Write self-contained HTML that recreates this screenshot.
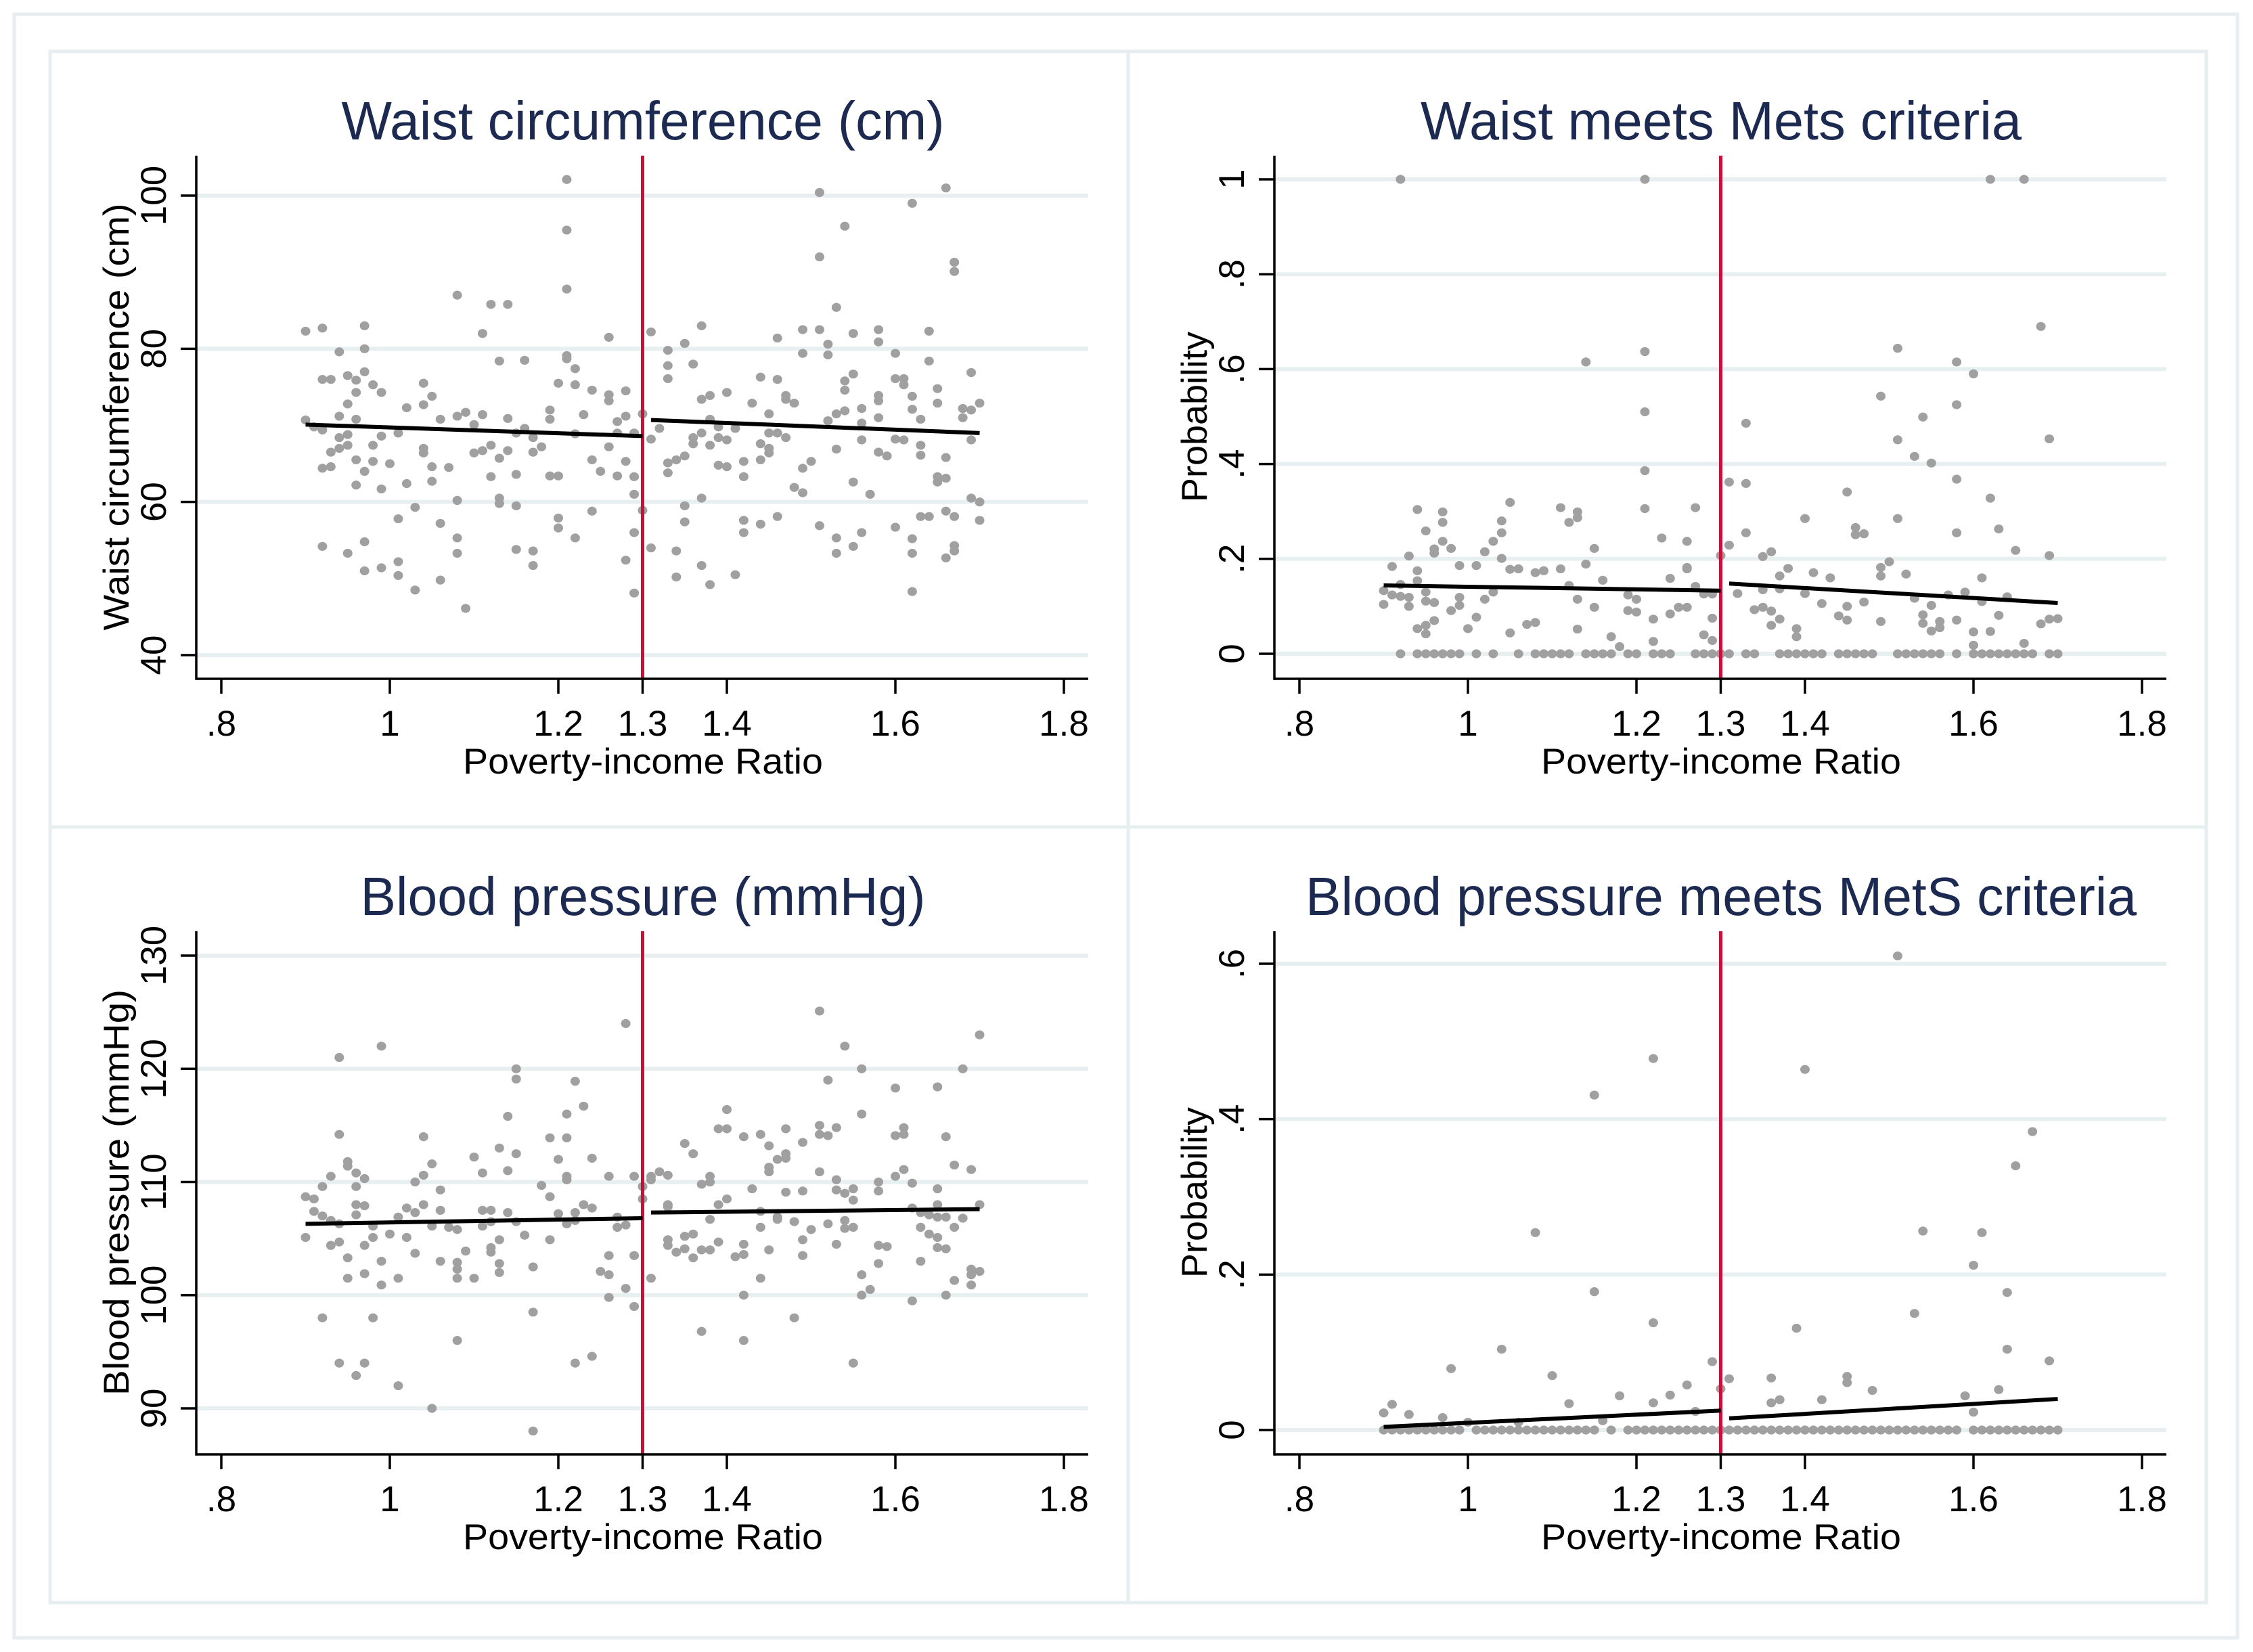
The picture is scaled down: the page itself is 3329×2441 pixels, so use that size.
<!DOCTYPE html>
<html><head><meta charset="utf-8">
<style>
html,body{margin:0;padding:0;background:#fff;}
svg{display:block;font-family:"Liberation Sans",Arial,sans-serif;}
</style></head>
<body>
<svg id="chart" xmlns="http://www.w3.org/2000/svg" width="3329" height="2441" viewBox="0 0 3329 2441">
<rect x="0" y="0" width="3329" height="2441" fill="#fff"/>
<rect x="21" y="21" width="3285" height="2399" fill="none" stroke="#e6eef0" stroke-width="5"/>
</svg>
<script>
// Shared x categories (poverty-income ratio levels)
const pirLevels = [0.90,0.91,0.92,0.93,0.94,0.95,0.96,0.97,0.98,0.99,1.00,1.01,1.02,1.03,1.04,1.05,1.06,1.07,1.08,1.09,1.10,1.11,1.12,1.13,1.14,1.15,1.16,1.17,1.18,1.19,1.20,1.21,1.22,1.23,1.24,1.25,1.26,1.27,1.28,1.29,1.30,1.31,1.32,1.33,1.34,1.35,1.36,1.37,1.38,1.39,1.40,1.41,1.42,1.43,1.44,1.45,1.46,1.47,1.48,1.49,1.50,1.51,1.52,1.53,1.54,1.55,1.56,1.57,1.58,1.59,1.60,1.61,1.62,1.63,1.64,1.65,1.66,1.67,1.68,1.69,1.70];
const xTickValues = [0.8,1,1.2,1.3,1.4,1.6,1.8];
const xTickLabels = [".8","1","1.2","1.3","1.4","1.6","1.8"];
const cutoff = 1.3;

// Panel 1: waist circumference
const waistY = [[82.3,70.7],[69.8],[82.7,76,54.2,64.4,69.4],[76,66.5,64.6],[79.6,68.4,71.2,67],[76.5,72.8,68.8,67.4,53.3],[75.9,74.3,65.5,62.2,70.8],[83,80,77,64,54.8,51],[75.3,67.4,65.3],[74.3,68.6,61.7,51.4],[65],[57.8,52.2,50.4,69],[72.3,62.4],[59.3,48.5],[75.5,72.7,67,66.4],[73.8,64.6,62.7],[70.8,57.2,49.8],[64.5],[87,71.2,60.2,55.3,53.3],[71.7,46.1],[70.1,66.4],[82,71.4,66.7],[85.8,67.4,63.3],[78.4,65.7,60.5,59.8],[85.8,70.9,66.7],[69,63.6,59.5,53.8],[78.5,69.6],[68.4,66.5,53.6,51.7],[67.2],[72,70.8,63.4],[75.5,63.4,57.9,56.6],[102.1,95.5,87.8,79.1,78.7],[77.4,75.3,68.9,55.3],[71.4],[74.6,65.5,58.8],[64],[81.5,74,73.2,67.2],[70.5,69,63.4],[74.5,71.2,65.3,52.4],[69,63.3,61,56,48.1],[71.5,58.9],[82.2,68.2,54],[69.6],[79.8,77.8,76.1,65.1,63.8],[65.5,53.6,50.2],[80.7,66,59.5,57.4],[78,68.4,67.6],[83,73.4,69,60.5,51.7],[73.9,70.8,67.4,49.2],[69.8,68.4,64.8],[74.3,68.1,64.6],[69.6,50.5],[65.3,63.3,57.6,56],[72.9],[76.3,67.6,65.5,57.1],[71.5,69,67,66.4],[81.4,76,69,58.1],[73.9,73.4,68.4],[72.9,61.9],[82.5,79.4,64.4,61.2],[65.3],[100.4,92,82.5,56.9],[80.6,79.2,70.6],[85.4,71.5,66.9,55.3,53.3],[96,75.8,74.6,71.9],[82,76.7,62.6,54.2],[72.2,70.3,68.1,56],[61],[82.5,80.9,73.9,73.2,71,66.5],[66],[79.4,76.1,68.2,56.7],[76.1,75.3,68.1],[99,73.8,72.1,55.2,53.3,48.3],[70.8,67.4,66.1,58.1],[82.3,78.4,58.1],[74.8,72.9,63.3,62.6],[101,65.8,63.1,58.8,52.7],[91.3,90.1,58.1,54.3,53.6],[72.2,71],[76.9,72,68.1,60.5],[72.9,60,57.6]];
const waistTicks = [40,60,80,100];
const waistFitY = [[70.1,68.6],[70.7,69.0]];

// Panel 2: waist meets MetS criteria (probability)
const waistMetY = [[.133,.104],[.184,.124],[1,.146,.121,0],[.206,.119,.100],[.304,.175,.154,.053,0],[.259,.130,.111,.060,.042,0],[.221,.212,.108,.070,0],[.299,.277,.237,0],[.222,.091,0],[.186,.119,.102,0],[.053],[.186,.077,0],[.215,.115],[.237,.130,0],[.280,.255,.201],[.319,.178,.044],[.179,0],[.062],[.171,.066,0],[.175,0],[0],[.308,.179,0],[.277,.144,0],[.299,.287,.115,.052],[.615,.189,0],[.222,.098,0],[.155,0],[.036,0],[.015],[.124,.091,0],[.115,.088,0],[1,.637,.510,.386,.306],[.073,.026,0],[.244,0],[.159,.084,0],[.098],[.237,.182,.179,.098],[.308,.142,0],[.126,.040,0],[.126,.075,.028,0],[.207,0],[.362,.229,0],[.127],[.486,.359,.255,0],[.093,0],[.205,.135,.098],[.215,.090,.060],[.164,.137,.073,0],[.180,0],[.053,.036,0],[.285,.127,0],[.171,0],[.106,0],[.160],[.080,0],[.341,.100,.071,0],[.266,.251,0],[.253,.109,0],[0],[.543,.182,.164,.068],[.194],[.644,.451,.285,0],[.168,0],[.416,.117,0],[.499,.082,.064,0],[.402,.102,.048,0],[.068,.055,0],[.124],[.615,.525,.368,.255,.071,0],[.130],[.590,.046,.018,0],[.160,.110,0],[1,.328,.047,0],[.263,.081,0],[.120,0],[.218,0],[1,.022,0],[0],[.690,.063],[.453,.207,.073,0],[.074,0]];
const probTicks = [0,0.2,0.4,0.6,0.8,1];
const probTickLabels = ["0",".2",".4",".6",".8","1"];
const waistMetFitY = [[.144,.133],[.148,.107]];

// Panel 3: blood pressure
const bpY = [[108.7,105.1],[108.5,107.4],[109.6,107,98],[110.5,106.6,104.4],[121,114.2,106.3,104.7,94],[111.8,111.4,103.3,101.5],[110.8,109.6,108,107.1,92.9],[110.3,107.9,104.4,101.9,94],[106.1,105.1,98],[122,103,100.9],[105.4],[106.9,101.5,92],[107.7,105.1],[110,107.3,103.7],[114,110.6,108],[111.6,106.1,90],[109.3,107.5,103],[106],[105.8,102.9,102.3,101.5,96],[103.9],[112.2,101.5],[110.8,107.5,106.1],[107.5,106.5,104.2,103.8],[113,104.9,102.8,102],[115.8,111,107.3],[120,119.1,112.5,106.5],[105.3],[102.5,98.5,88],[109.7],[113.9,108.7,104.9],[112,107.2],[116,113.9,110.5,110.2,106.3],[118.9,107.3,106.6,94],[116.7,108],[112.1,107.7,94.6],[102.1],[110.5,103.5,101.8,99.8],[106.9,106],[124,106.2,100.6],[110.5,103.5,99],[109.6,108.5],[110.5,110.2,101.5],[110.9],[110.6,108,107.8,104.9,104.4],[103.8],[113.4,105.2,104.1],[112.5,105.4,103.3],[109.8,104,96.8],[110.5,110,106.7,104],[114.7,108,104.7],[116.4,114.7,108.5],[103.4],[114,104.5,103.6,100,96],[109.4],[114.2,107.4,106,101.5],[113.2,111.3,110.9,104],[112,106.9,106.7],[114.7,112.5,112.1,109.1],[106.5,98],[113.5,109.2,104.9,103.5],[105.8],[125.1,115,114.2,110.9],[119,114.1,106.3],[114.8,110.2,109.3,104.5],[122,109,106.6,105.9],[109.4,108.4,106,94],[120,116,101.8,100],[100.5],[110,109.2,104.4,102.8],[104.3],[118.3,114.1,110.5],[114.8,114.2,111.1],[109.9,107.7,99.5],[107.3,106,103],[107.1,105.4],[118.4,109.4,108,106.9,105.1,104.2],[114,106.9,104.1,100],[111.5,106,101.3],[120,106.8],[111.1,102.3,101.8,100.9],[123,108,102.1]];
const bpTicks = [90,100,110,120,130];
const bpFitY = [[106.3,106.8],[107.3,107.6]];

// Panel 4: blood pressure meets MetS criteria
const bpMetY = [[0,.022],[0,.033],[0],[0,.020],[0],[0],[0],[0,.016],[0,.079],[0],[.010],[0],[0],[0],[0,.104],[0],[0,.010],[0],[0,.254],[0],[0,.070],[0],[0,.034],[0],[0],[0,.431,.178],[.012],[0],[.044],[0],[0],[0],[0,.478,.138,.035],[0],[0,.045],[0],[0,.058],[0,.024],[0],[0,.088],[0,.053],[0,.066],[0],[0],[0],[0],[0,.067,.035],[0,.039],[0],[0,.131],[0,.464],[0],[0,.039],[0],[0],[0,.069,.061],[0],[0],[0,.051],[0],[0],[0,.610],[0],[0,.150],[0,.256],[0],[0],[0],[0],[.044],[0,.212,.023],[0,.254],[0],[0,.052],[0,.177,.104],[0,.340],[0],[0,.384],[0],[0,.089],[0]];
const bpProbTicks = [0,0.2,0.4,0.6];
const bpProbTickLabels = ["0",".2",".4",".6"];
const bpMetFitY = [[.004,.025],[.015,.040]];
const fitX = [[0.90,1.30],[1.31,1.70]];

const NS = "http://www.w3.org/2000/svg";
const svg = document.getElementById('chart');
function mk(tag, attrs, parent){
  const e = document.createElementNS(NS, tag);
  for (const k in attrs) e.setAttribute(k, attrs[k]);
  (parent||svg).appendChild(e);
  return e;
}

function panel(key, ox, oy, cfg){
  const g = mk('g', {});
  
  
  const border = mk('rect', {x: ox+74, y: oy+76, width: 1593, height: 1146, fill: 'none', stroke: '#e6eef0', 'stroke-width': 5}, g);
  
  
  const xs = v => ox + 327 + (v - 0.8) * 1245;
  const ys = v => oy + cfg.p0 + (v - cfg.v0) * (cfg.p1 - cfg.p0) / (cfg.v1 - cfg.v0);
  const L = ox + 290, R = ox + 1608, T = oy + 230, B = oy + 1003;

  const title = mk('text', {x: ox + 950, y: oy + 206, 'text-anchor': 'middle', 'font-size': 80, fill: '#1c2a52', textLength: cfg.titleLen, lengthAdjust: 'spacingAndGlyphs'}, g);
  title.textContent = cfg.title;
  
  

  cfg.ticks.forEach((t, i) => {
    const y = ys(t);
    const gl = mk('line', {x1: L, x2: R, y1: y, y2: y, stroke: '#e8eff0', 'stroke-width': 6}, g);
    
    
    const tk = mk('line', {x1: L - 23, x2: L, y1: y, y2: y, stroke: '#000', 'stroke-width': 3.5}, g);
    
    
    const lb = mk('text', {transform: 'translate(' + (ox + 245) + ',' + y + ') rotate(-90)', 'text-anchor': 'middle', 'font-size': 53, fill: '#000'}, g);
    lb.textContent = cfg.tickLabels[i];
    
    
  });

  pirLevels.forEach((xv, i) => {
    (cfg.data[i] || []).forEach(yv => {
      const c = mk('ellipse', {cx: xs(xv), cy: ys(yv), rx: 7, ry: 6.6, fill: '#a0a0a0'}, g);
      
      
    });
  });

  const red = mk('line', {x1: xs(cutoff), x2: xs(cutoff), y1: T, y2: B, stroke: '#c8103a', 'stroke-width': 5}, g);
  
  

  fitX.forEach((fx, i) => {
    const fl = mk('line', {x1: xs(fx[0]), x2: xs(fx[1]), y1: ys(cfg.fit[i][0]), y2: ys(cfg.fit[i][1]), stroke: '#000', 'stroke-width': 6}, g);
    
    
  });

  const ya = mk('line', {x1: L, x2: L, y1: T, y2: B + 1.75, stroke: '#000', 'stroke-width': 3.5}, g);
  
  
  const xa = mk('line', {x1: L, x2: R, y1: B, y2: B, stroke: '#000', 'stroke-width': 3.5}, g);
  
  

  xTickValues.forEach((t, i) => {
    const x = xs(t);
    const tk = mk('line', {x1: x, x2: x, y1: B, y2: B + 22, stroke: '#000', 'stroke-width': 3.5}, g);
    
    
    const lb = mk('text', {x: x, y: oy + 1087, 'text-anchor': 'middle', 'font-size': 53, fill: '#000'}, g);
    lb.textContent = xTickLabels[i];
    
    
  });

  const xt = mk('text', {x: ox + 950, y: oy + 1143, 'text-anchor': 'middle', 'font-size': 53, fill: '#000', textLength: 532, lengthAdjust: 'spacingAndGlyphs'}, g);
  xt.textContent = 'Poverty-income Ratio';
  
  

  const yt = mk('text', {transform: 'translate(' + (ox + 190) + ',' + (oy + 616) + ') rotate(-90)', 'text-anchor': 'middle', 'font-size': 53, fill: '#000', textLength: cfg.yTitleLen, lengthAdjust: 'spacingAndGlyphs'}, g);
  yt.textContent = cfg.yTitle;
  
  
}

panel('waist', 0, 0, {title: 'Waist circumference (cm)', titleLen: 891, yTitle: 'Waist circumference (cm)', yTitleLen: 631,
  v0: 40, p0: 968, v1: 100, p1: 289, ticks: waistTicks, tickLabels: waistTicks.map(String), data: waistY, fit: waistFitY});
panel('waist-mets', 1593, 0, {title: 'Waist meets Mets criteria', titleLen: 888, yTitle: 'Probability', yTitleLen: 252,
  v0: 0, p0: 966, v1: 1, p1: 265, ticks: probTicks, tickLabels: probTickLabels, data: waistMetY, fit: waistMetFitY});
panel('bp', 0, 1146, {title: 'Blood pressure (mmHg)', titleLen: 835, yTitle: 'Blood pressure (mmHg)', yTitleLen: 600,
  v0: 90, p0: 935, v1: 130, p1: 266, ticks: bpTicks, tickLabels: bpTicks.map(String), data: bpY, fit: bpFitY});
panel('bp-mets', 1593, 1146, {title: 'Blood pressure meets MetS criteria', titleLen: 1228, yTitle: 'Probability', yTitleLen: 252,
  v0: 0, p0: 967, v1: 0.6, p1: 278, ticks: bpProbTicks, tickLabels: bpProbTickLabels, data: bpMetY, fit: bpMetFitY});
</script>
</body></html>
